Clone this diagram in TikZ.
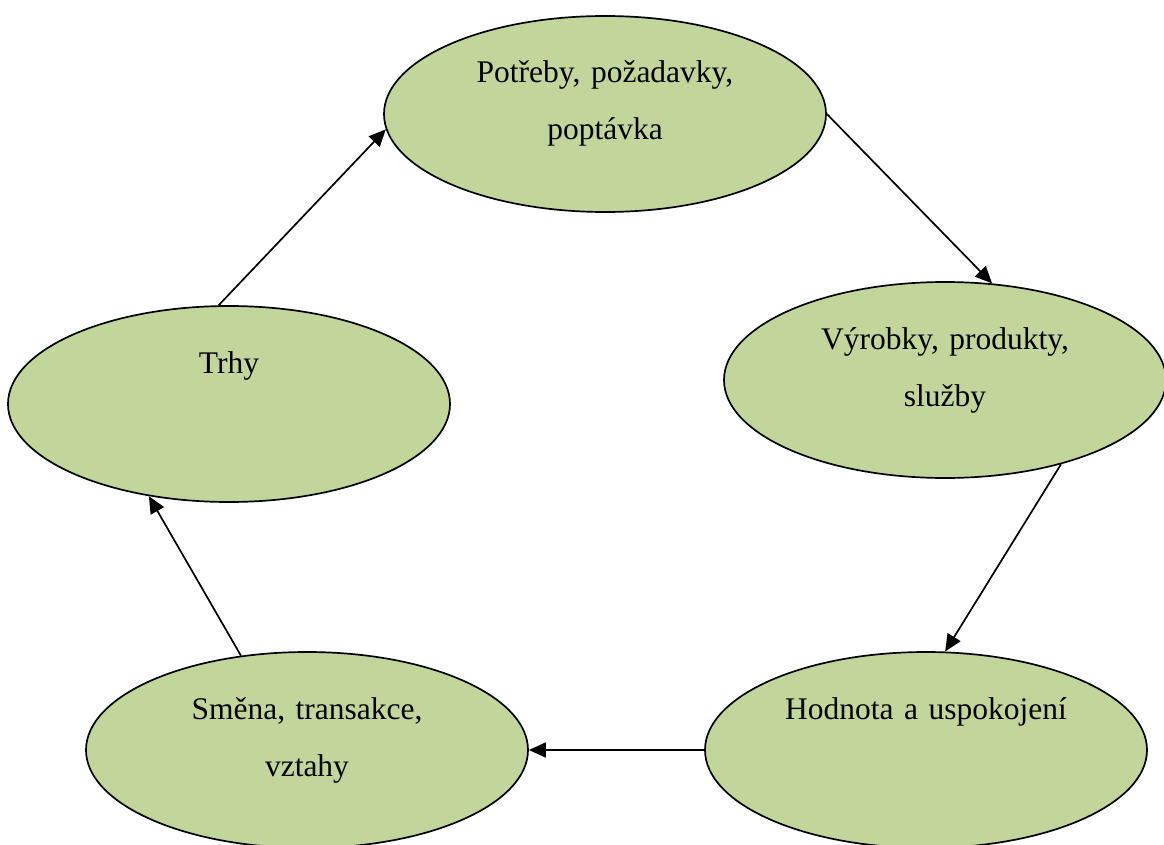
\documentclass[tikz,border=0pt]{standalone}
\usepackage{fontspec}
\setmainfont{Liberation Serif}
\usetikzlibrary{arrows.meta, positioning, shapes.geometric}
\usepackage{xcolor}
\definecolor{olivelight}{HTML}{C2D69B}
\def\txtdrop{31}

\begin{document}
\begin{tikzpicture}[x=1pt,y=-1pt,line width=1.7pt]
    \tikzstyle{cyklus}=[ellipse,draw=black,fill=olivelight,minimum width=442pt,minimum height=196pt,inner sep=0pt]
    \tikzstyle{popis}=[anchor=base,text width=330pt,align=center,inner sep=0pt,font=\fontsize{31.5}{57}\selectfont]
    \tikzstyle{sipka}=[-{Triangle[length=17pt,width=15pt]},draw=black]

    \useasboundingbox (0,0) rectangle (1164,845);

    % Draw the ellipses
    \node[cyklus] (potreby) at (605,114) {};
    \node[cyklus] (vyrobky) at (945,380) {};
    \node[cyklus] (hodnota) at (926,750) {};
    \node[cyklus] (smena) at (307,750) {};
    \node[cyklus] (trhy) at (229,404) {};

    % Texts, put in the upper part of each ellipse
    \node[popis] (potreby-t) at ([yshift=\txtdrop pt]potreby.center) {Potřeby, požadavky,\\ poptávka};
    \node[popis] (vyrobky-t) at ([yshift=\txtdrop pt]vyrobky.center) {Výrobky, produkty,\\ služby};
    \node[popis] (hodnota-t) at ([yshift=\txtdrop pt]hodnota.center) {Hodnota a uspokojení};
    \node[popis] (smena-t) at ([yshift=\txtdrop pt]smena.center) {Směna, transakce,\\ vztahy};
    \node[popis] (trhy-t) at ([yshift=\txtdrop pt]trhy.center) {Trhy};

    % Connect the ellipses round the cycle
    \draw[sipka] (trhy.96) -- (potreby.184);
    \draw[sipka] (potreby.0) -- (vyrobky.64);
    \draw[sipka] (vyrobky.-36) -- (hodnota.79);
    \draw[sipka] (hodnota.west) -- (smena.east);
    \draw[sipka] (smena.125) -- (trhy.229);
\end{tikzpicture}
\end{document}
